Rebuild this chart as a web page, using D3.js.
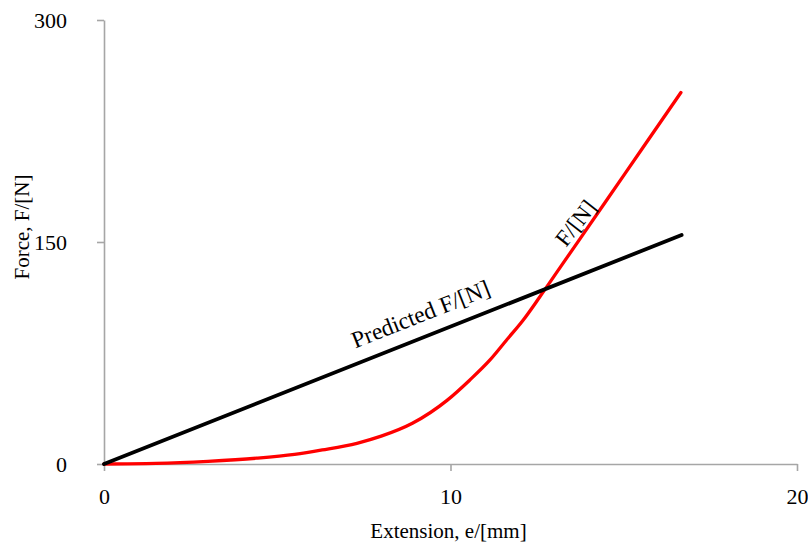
<!DOCTYPE html>
<html>
<head>
<meta charset="utf-8">
<script src="https://cdn.jsdelivr.net/npm/d3@7"></script>
<style>
  body { margin: 0; background: #fff; }
  svg { display: block; }
</style>
</head>
<body>
<svg id="chart" width="808" height="543"></svg>
<script>
// Data
const extension = [0, 1.5, 3, 4.4, 5.5, 6.3, 7.3, 8, 8.9, 9.9, 10.56, 11.14, 11.62, 12.1, 12.58, 13.2, 14.5, 15.5, 16.65];
const force = [0, 0.4, 1.8, 3.9, 6.5, 9.5, 14, 18.8, 27.5, 43, 56.8, 70.3, 83.8, 97.3, 113, 134, 178, 212, 251];
const predictedExtension = [0, 16.67];
const predictedForce = [0, 154.7];
const xTicks = [0, 10, 20];
const yTicks = [0, 150, 300];

const svg = d3.select('#chart');

const x = d3.scaleLinear().domain([0, 20]).range([104, 797]);
const y = d3.scaleLinear().domain([0, 300]).range([464, 20]);

const axisColor = '#a6a6a6';
const serif = '"Liberation Serif"';

// x axis
const xAxis = svg.append('g')
  .attr('transform', `translate(0,${y(0)})`)
  .call(d3.axisBottom(x).tickValues(xTicks).tickSize(7).tickSizeOuter(0).tickPadding(17));

// y axis
const yAxis = svg.append('g')
  .attr('transform', `translate(${x(0)},0)`)
  .call(d3.axisLeft(y).tickValues(yTicks).tickSize(7).tickSizeOuter(0).tickPadding(30));

[xAxis, yAxis].forEach(g => {
  g.select('.domain').attr('stroke', axisColor).attr('stroke-width', 1.6);
  g.selectAll('.tick line').attr('stroke', axisColor).attr('stroke-width', 1.6);
  g.selectAll('.tick text')
    .style('font-family', serif)
    .style('font-size', '22px')
    .attr('fill', '#000');
});
xAxis.selectAll('.tick text').attr('dy', '0.71em');
yAxis.selectAll('.tick text').attr('dy', '0.34em');

// series
const line = d3.line()
  .x(d => x(d[0]))
  .y(d => y(d[1]));

svg.append('path')
  .datum(extension.map((e, i) => [e, force[i]]))
  .attr('fill', 'none')
  .attr('stroke', '#ff0000')
  .attr('stroke-width', 3.3)
  .attr('stroke-linecap', 'round')
  .attr('d', line.curve(d3.curveMonotoneX));

svg.append('path')
  .datum(predictedExtension.map((e, i) => [e, predictedForce[i]]))
  .attr('fill', 'none')
  .attr('stroke', '#000')
  .attr('stroke-width', 3.8)
  .attr('stroke-linecap', 'round')
  .attr('d', line.curve(d3.curveLinear));

// series labels along the lines
const predAngle = Math.atan2(y(predictedForce[1]) - y(0), x(predictedExtension[1]) - x(0)) * 180 / Math.PI;

svg.append('text')
  .style('font-family', serif)
  .style('font-size', '23.5px')
  .attr('transform', `translate(${x(7.25)},${y(78)}) rotate(${predAngle})`)
  .text('Predicted F/[N]');

svg.append('text')
  .style('font-family', serif)
  .style('font-size', '23px')
  .attr('transform', `translate(${x(13.33)},${y(146)}) rotate(-52)`)
  .text('F/[N]');

// axis titles
svg.append('text')
  .style('font-family', serif)
  .style('font-size', '21px')
  .attr('x', (x(0) + x(20)) / 2 - 2)
  .attr('y', 538)
  .attr('text-anchor', 'middle')
  .text('Extension, e/[mm]');

svg.append('text')
  .style('font-family', serif)
  .style('font-size', '21px')
  .attr('transform', `translate(29,227) rotate(-90)`)
  .attr('text-anchor', 'middle')
  .text('Force, F/[N]');
</script>
</body>
</html>
